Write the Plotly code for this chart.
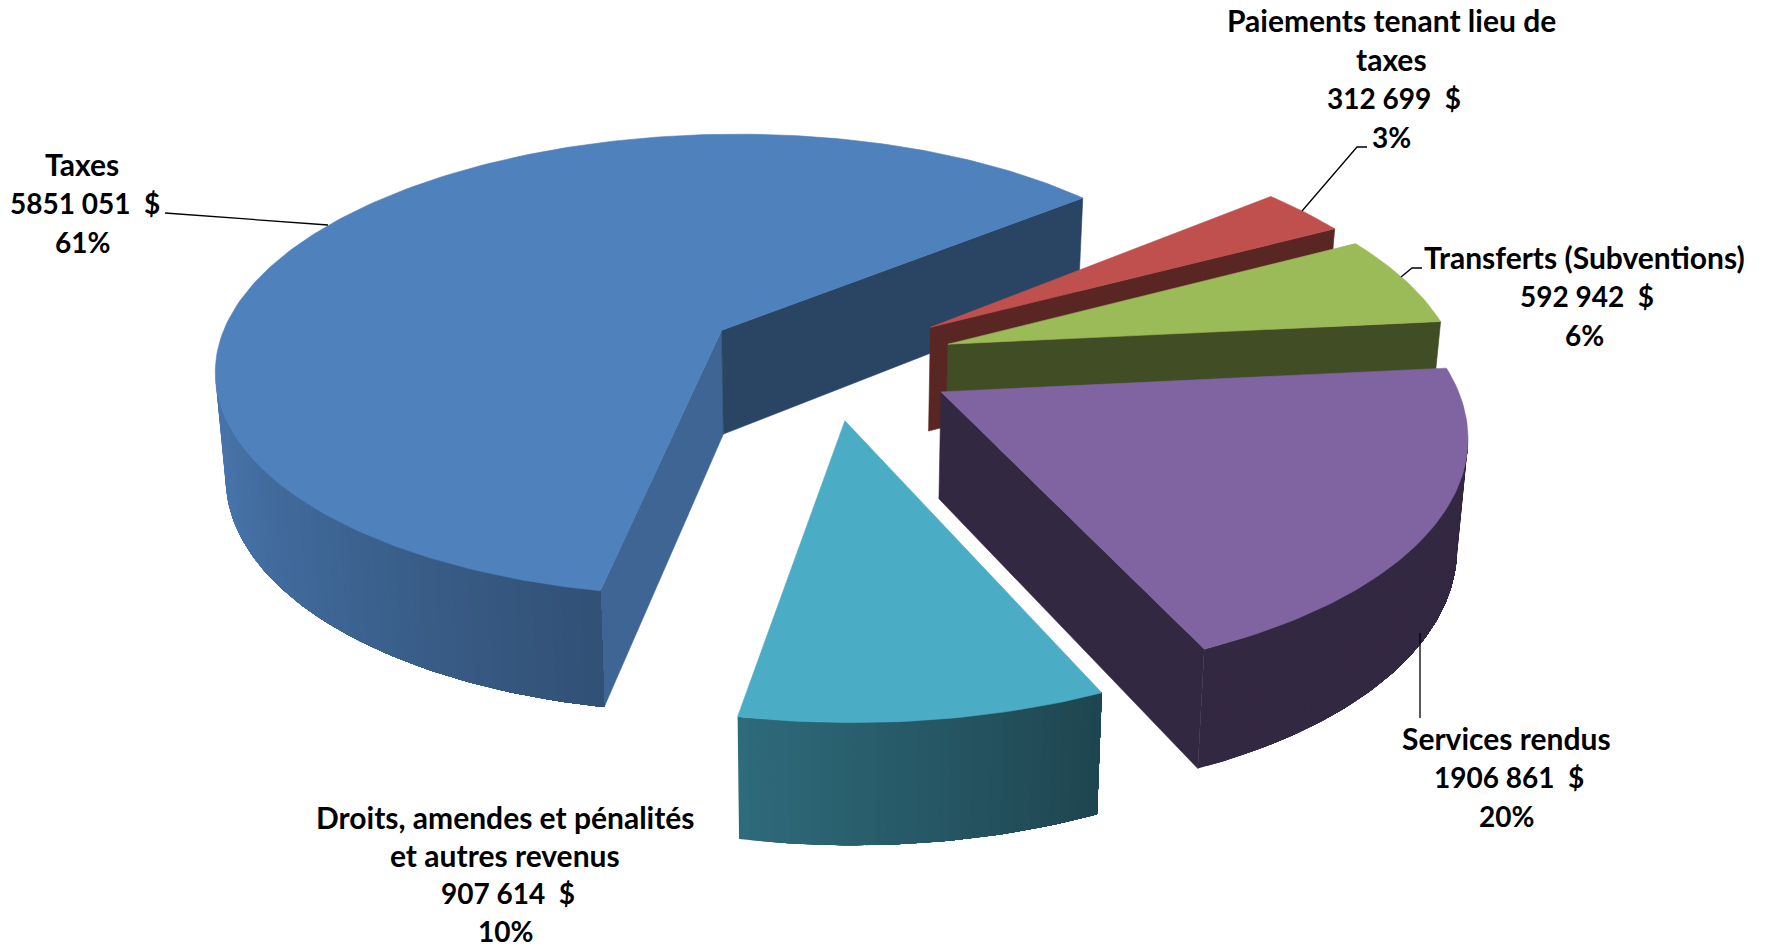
import numpy as np
import plotly.graph_objects as go

# --- data ---
categories = ["Taxes", "Paiements tenant lieu de taxes", "Transferts (Subventions)",
              "Services rendus", "Droits, amendes et pénalités et autres revenus"]
values = [5851051, 312699, 592942, 1906861, 907614]
percent_labels = ["61%", "3%", "6%", "20%", "10%"]
value_labels = ["5851 051  $", "312 699  $", "592 942  $", "1906 861  $", "907 614  $"]
name_lines = [["Taxes"], ["Paiements tenant lieu de", "taxes"], ["Transferts (Subventions)"],
              ["Services rendus"], ["Droits, amendes et pénalités", "et autres revenus"]]
colors = ["#4F81BD", "#C0504D", "#9BBB59", "#8064A2", "#4BACC6"]

# --- slice explosion on the pie's plane (radius = 1) ---
explode_x = [0.0, 0.417, 0.447, 0.42, 0.232]
explode_y = [0.0, 0.0, -0.075, -0.275, -0.385]
radius = [1.0, 0.99, 0.99, 0.985, 1.0]

# --- label placement (pixel space of the page) ---
label_x = [82, 1391, 1584, 1506, 505]
label_first_y = [164, 20, 257, 738, 817]
line_step = [39, 39, 39, 39, 38]
VALUE_SHIFT = 3
leader_x = [[165, 328], [1367, 1357, 1302], [1422, 1412, 1401], [1420, 1420]]
leader_y = [[213, 225], [147, 147, 211], [268, 268, 277], [718, 633]]

# --- camera ---
W, H = 1768, 950
S = 1768 / 1568
OX, OY = 640 * S, 293 * S
UX, VY = 444 * S, 200 * S
ROLL = 0.0145
PERSP = 0.15
DEPTH = 92 * S
START = 38.0


def project(X, Y):
    w = 1 + PERSP * Y
    x = UX * X / w
    return OX + x, OY - VY * Y / w - ROLL * x, w


def drop(x, y, w):
    return x + (90 * S - (x - OX)) * 0.017, y + DEPTH / w ** 0.72


def shade_hex(color, k):
    r, g, b = (int(color[i:i + 2], 16) for i in (1, 3, 5))
    return f"rgb({r * k:.0f},{g * k:.0f},{b * k:.0f})"


def rim_shade(a):
    return np.interp(a % 360, [170, 200, 225, 258, 292, 360], [0.95, 0.89, 0.78, 0.62, 0.40, 0.40])


def low_face_shade(a):
    return np.interp(((a + 180) % 360) - 180, [-70, 3, 26, 38], [0.40, 0.41, 0.47, 0.53])


fig = go.Figure()


def poly(xs, ys, color, lw=0.6):
    fig.add_trace(go.Scatter(x=list(xs), y=list(ys), mode="lines", fill="toself", fillcolor=color,
                             line=dict(color=color, width=lw), hoverinfo="skip", showlegend=False))


total = sum(values)
sweeps = [v / total * 360 for v in values]
hi = START + sweeps[0]
for i, sweep in enumerate(sweeps):
    lo = hi - sweep
    x0, y0, r0 = explode_x[i], explode_y[i], radius[i]
    deg = np.linspace(lo, hi, int(sweep) + 2)
    ang = np.radians(deg)
    rx, ry, rw = project(x0 + r0 * np.cos(ang), y0 + r0 * np.sin(ang))
    ax, ay, aw = project(x0, y0)
    bx, by = drop(rx, ry, rw)
    cx, cy = drop(ax, ay, aw)
    col = colors[i]

    # radial faces seen from the camera
    if rx[-1] < ax:
        poly([ax, rx[-1], bx[-1], cx, ax], [ay, ry[-1], by[-1], cy, ay], shade_hex(col, 0.78))
    if rx[0] > ax:
        poly([ax, rx[0], bx[0], cx, ax], [ay, ry[0], by[0], cy, ay], shade_hex(col, low_face_shade(lo)))

    # outer wall: only the run facing the camera, painted in overlapping bands so no seams show
    near = [j for j in range(len(ang) - 1) if rx[j] < rx[j + 1]]
    if near:
        first, last = near[0], near[-1] + 1
        for j in range(first, last):
            k = rim_shade(deg[j])
            xs = np.r_[rx[j:last + 1], bx[j:last + 1][::-1], rx[j]]
            ys = np.r_[ry[j:last + 1], by[j:last + 1][::-1], ry[j]]
            poly(xs, ys, shade_hex(col, k), lw=0)

    # top face
    poly(np.r_[ax, rx, ax], np.r_[ay, ry, ay], col)
    hi = lo

for lx, ly in zip(leader_x, leader_y):
    fig.add_trace(go.Scatter(x=lx, y=ly, mode="lines", line=dict(color="black", width=1.3),
                             hoverinfo="skip", showlegend=False))

annotations = []
for i in range(len(categories)):
    rows = [(t, 30, 0) for t in name_lines[i]] + [(value_labels[i], 28, VALUE_SHIFT), (percent_labels[i], 28, 0)]
    for n, (text, size, dx) in enumerate(rows):
        annotations.append(dict(x=label_x[i] + dx, y=label_first_y[i] + n * line_step[i], text=f"<b>{text}</b>",
                                xref="x", yref="y", showarrow=False, xanchor="center", yanchor="middle",
                                font=dict(family="Lato", size=size, color="black")))

fig.update_layout(width=W, height=H, margin=dict(l=0, r=0, t=0, b=0), paper_bgcolor="white",
                  plot_bgcolor="white", annotations=annotations, showlegend=False,
                  xaxis=dict(range=[0, W], visible=False, fixedrange=True),
                  yaxis=dict(range=[H, 0], visible=False, fixedrange=True))
fig.write_html("out.html", post_script="document.body.style.margin='0';", config={"displayModeBar": False})
